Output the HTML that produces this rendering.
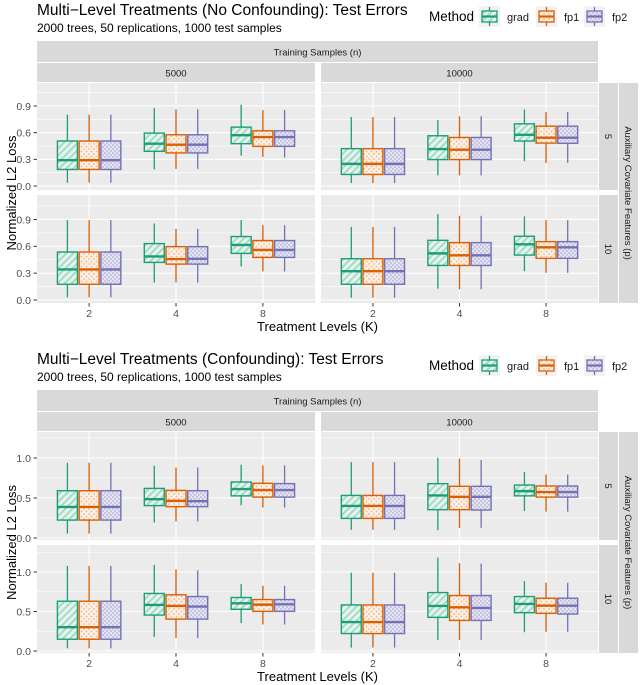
<!DOCTYPE html>
<html><head><meta charset="utf-8"><style>
html,body{margin:0;padding:0;background:#fff;}
svg{display:block;font-family:"Liberation Sans",Arial,sans-serif;}
</style></head><body>
<svg id="chart" width="640" height="685" viewBox="0 0 640 685">
<defs>
<pattern id="pat-grad" width="5" height="5" patternUnits="userSpaceOnUse" patternTransform="rotate(-45)">
<rect width="5" height="5" fill="#e6f4ee"/><rect width="5" height="2" fill="#a6dac6"/></pattern>
<pattern id="pat-fp1" width="5" height="5" patternUnits="userSpaceOnUse">
<rect width="5" height="5" fill="#fcefe5"/><circle cx="1.5" cy="1.5" r="0.9" fill="#f3b486"/><circle cx="4" cy="4" r="0.9" fill="#f3b486"/></pattern>
<pattern id="pat-fp2" width="4" height="4" patternUnits="userSpaceOnUse">
<rect width="4" height="4" fill="#e4e4f1"/><circle cx="1" cy="1" r="0.9" fill="#b3b1d8"/><circle cx="3" cy="3" r="0.9" fill="#b3b1d8"/></pattern>
</defs>
</svg>
<script>
// ---- data ----
const categories = ['2', '4', '8'];
const methods = ['grad', 'fp1', 'fp2'];
const colNames = ['5000', '10000'];
const rowNames = ['5', '10'];
// each entry: [K index][method index] = [whiskerLow, q1, median, q3, whiskerHigh]
const noconf_n5000_p5 = [
 [[0.037,0.186,0.29,0.506,0.803],[0.037,0.186,0.29,0.506,0.803],[0.037,0.186,0.29,0.506,0.803]],
 [[0.186,0.39,0.476,0.595,0.877],[0.193,0.372,0.465,0.576,0.862],[0.193,0.372,0.465,0.576,0.862]],
 [[0.342,0.476,0.572,0.662,0.914],[0.327,0.446,0.55,0.621,0.855],[0.32,0.446,0.55,0.621,0.855]]];
const noconf_n10000_p5 = [
 [[0.033,0.13,0.249,0.42,0.777],[0.033,0.13,0.249,0.42,0.777],[0.033,0.13,0.249,0.42,0.777]],
 [[0.119,0.297,0.416,0.565,0.743],[0.119,0.297,0.409,0.546,0.784],[0.119,0.297,0.409,0.546,0.784]],
 [[0.279,0.506,0.576,0.699,0.862],[0.26,0.483,0.543,0.673,0.833],[0.26,0.48,0.543,0.673,0.833]]];
const noconf_n5000_p10 = [
 [[0.03,0.176,0.341,0.536,0.892],[0.03,0.176,0.341,0.536,0.892],[0.03,0.176,0.341,0.536,0.892]],
 [[0.195,0.42,0.487,0.63,0.855],[0.195,0.401,0.457,0.596,0.795],[0.195,0.401,0.46,0.596,0.795]],
 [[0.375,0.521,0.615,0.709,0.892],[0.319,0.476,0.559,0.664,0.836],[0.319,0.476,0.559,0.664,0.836]]];
const noconf_n10000_p10 = [
 [[0.026,0.176,0.322,0.461,0.817],[0.026,0.176,0.322,0.461,0.817],[0.026,0.176,0.322,0.461,0.817]],
 [[0.127,0.386,0.521,0.667,0.96],[0.12,0.386,0.499,0.641,0.941],[0.12,0.386,0.499,0.641,0.941]],
 [[0.322,0.502,0.622,0.712,0.934],[0.304,0.465,0.589,0.652,0.892],[0.304,0.465,0.589,0.652,0.892]]];
const conf_n5000_p5 = [
 [[0.055,0.224,0.388,0.591,0.941],[0.055,0.224,0.388,0.591,0.941],[0.055,0.224,0.388,0.591,0.941]],
 [[0.194,0.405,0.485,0.62,0.903],[0.207,0.392,0.464,0.595,0.882],[0.207,0.392,0.46,0.591,0.882]],
 [[0.409,0.527,0.612,0.7,0.916],[0.38,0.511,0.599,0.684,0.907],[0.38,0.511,0.599,0.68,0.907]]];
const conf_n10000_p5 = [
 [[0.101,0.245,0.401,0.532,0.949],[0.101,0.245,0.401,0.532,0.949],[0.101,0.245,0.401,0.532,0.949]],
 [[0.097,0.354,0.532,0.679,1.004],[0.127,0.354,0.515,0.646,0.992],[0.127,0.35,0.515,0.646,0.975]],
 [[0.338,0.527,0.586,0.662,0.827],[0.329,0.511,0.574,0.65,0.793],[0.329,0.511,0.574,0.65,0.793]]];
const conf_n5000_p10 = [
 [[0.034,0.149,0.302,0.63,1.077],[0.034,0.149,0.302,0.63,1.077],[0.034,0.149,0.302,0.63,1.077]],
 [[0.179,0.455,0.583,0.728,1.089],[0.166,0.404,0.57,0.711,1.034],[0.162,0.404,0.562,0.689,1.021]],
 [[0.353,0.528,0.604,0.677,0.847],[0.336,0.502,0.587,0.651,0.826],[0.336,0.502,0.591,0.651,0.826]]];
const conf_n10000_p10 = [
 [[0.043,0.221,0.366,0.583,0.991],[0.043,0.221,0.366,0.583,0.991],[0.043,0.221,0.366,0.583,0.991]],
 [[0.14,0.426,0.57,0.74,1.183],[0.14,0.387,0.553,0.702,1.111],[0.14,0.387,0.545,0.702,1.106]],
 [[0.238,0.485,0.596,0.689,0.885],[0.243,0.477,0.574,0.668,0.864],[0.243,0.468,0.574,0.668,0.864]]];
const ticksTop = [0.0, 0.3, 0.6, 0.9];
const minorTop = [0.15, 0.45, 0.75, 1.05];
const ticksBottom = [0.0, 0.5, 1.0];
const minorBottom = [0.25, 0.75, 1.25];

const colors = {grad:'#1b9e77', fp1:'#d95f02', fp2:'#7570b3'};
const svg = document.getElementById('chart');
const NS = 'http://www.w3.org/2000/svg';
function mk(tag, attrs, parent){const e=document.createElementNS(NS,tag);for(const k in attrs)e.setAttribute(k,attrs[k]);(parent||svg).appendChild(e);return e;}
function txt(s, attrs, parent){const e=mk('text',attrs,parent);e.textContent=s;return e;}

const cols = [{l:37,r:315},{l:321,r:598}];
function xScale(col, k, m){const c=cols[col];const u=(c.r-c.l)/3.2;return c.l+(k+1-0.4+(m-1)*0.25)*u;}
function boxW(col){const c=cols[col];return (c.r-c.l)/3.2*0.23;}

function drawChart(cfg){
  const g = mk('g',{});
  
  
  const t1 = txt(cfg.title,{x:37,y:cfg.top+15,'font-size':15.5,fill:'#000'},g);
   
  const t2 = txt('2000 trees, 50 replications, 1000 test samples',{x:37,y:cfg.top+32,'font-size':12,fill:'#000'},g);
   
  // legend
  const lg = mk('g',{},g);
   
  txt('Method',{x:429,y:cfg.top+21,'font-size':13.5},lg);
  const lx=[479,536,584];
  methods.forEach((m,i)=>{
    const kg=mk('g',{},lg);
     
    const x=lx[i], y=cfg.top+6;
    mk('rect',{x:x,y:y,width:21,height:21,fill:'#f2f2f2'},kg);
    mk('line',{x1:x+10.5,x2:x+10.5,y1:y+1,y2:y+20,stroke:colors[m],'stroke-width':1.3},kg);
    mk('rect',{x:x+3,y:y+5,width:15,height:11,fill:'url(#pat-'+m+')',stroke:colors[m],'stroke-width':1.3},kg);
    mk('line',{x1:x+3,x2:x+18,y1:y+10.5,y2:y+10.5,stroke:colors[m],'stroke-width':2.2},kg);
    txt(m,{x:x+28,y:y+15,'font-size':11,fill:'#1a1a1a'},kg);
  });
  // top strips
  const st=cfg.top+41;
  const s1=mk('rect',{x:37,y:st,width:561,height:21,fill:'#d9d9d9'},g);
   
  txt('Training Samples (n)',{x:317.5,y:st+14.5,'font-size':9.5,fill:'#1a1a1a','text-anchor':'middle'},g);
  cols.forEach((c,ci)=>{
    const r=mk('rect',{x:c.l,y:st+22,width:c.r-c.l,height:19,fill:'#d9d9d9'},g);
     
    txt(colNames[ci],{x:(c.l+c.r)/2,y:st+35.5,'font-size':9.5,fill:'#1a1a1a','text-anchor':'middle'},g);
  });
  // right strips
  const rOut=mk('rect',{x:619,y:cfg.rows[0].t,width:19,height:cfg.rows[1].b-cfg.rows[0].t,fill:'#d9d9d9'},g);
   
  const my=(cfg.rows[0].t+cfg.rows[1].b)/2;
  txt('Auxiliary Covariate Features (p)',{x:625,y:my,'font-size':9.5,fill:'#1a1a1a','text-anchor':'middle',transform:'rotate(90 625 '+my+')'},g);
  cfg.rows.forEach((row,ri)=>{
    const r=mk('rect',{x:599,y:row.t,width:19,height:row.b-row.t,fill:'#d9d9d9'},g);
     
    const cy=(row.t+row.b)/2;
    txt(rowNames[ri],{x:605,y:cy,'font-size':9.5,fill:'#1a1a1a','text-anchor':'middle',transform:'rotate(90 605 '+cy+')'},g);
  });
  // panels
  cfg.rows.forEach((row,ri)=>{
    const yS=v=>row.y0-v*row.s;
    cols.forEach((c,ci)=>{
      const pg=mk('g',{},g);
       
      mk('rect',{x:c.l,y:row.t,width:c.r-c.l,height:row.b-row.t,fill:'#ebebeb'},pg);
      cfg.minor.forEach(v=>{const y=yS(v);if(y>row.t&&y<row.b)mk('line',{x1:c.l,x2:c.r,y1:y,y2:y,stroke:'#fff','stroke-width':0.6},pg);});
      cfg.ticks.forEach(v=>{const y=yS(v);mk('line',{x1:c.l,x2:c.r,y1:y,y2:y,stroke:'#fff','stroke-width':1.1},pg);});
      categories.forEach((k,ki)=>{const x=xScale(ci,ki,1);mk('line',{x1:x,x2:x,y1:row.t,y2:row.b,stroke:'#fff','stroke-width':1.1},pg);});
      const data=cfg.data[ri][ci];
      const w=boxW(ci);
      categories.forEach((k,ki)=>{
        methods.forEach((m,mi)=>{
          const d=data[ki][mi];
          const x=xScale(ci,ki,mi);
          const bg=mk('g',{},pg);
          
          
          mk('line',{x1:x,x2:x,y1:yS(d[0]),y2:yS(d[4]),stroke:colors[m],'stroke-width':1.3},bg);
          mk('rect',{x:x-w/2,y:yS(d[3]),width:w,height:yS(d[1])-yS(d[3]),fill:'url(#pat-'+m+')',stroke:colors[m],'stroke-width':1.4},bg);
          mk('line',{x1:x-w/2,x2:x+w/2,y1:yS(d[2]),y2:yS(d[2]),stroke:colors[m],'stroke-width':2.4},bg);
        });
      });
    });
    // y axis
    const ax=mk('g',{},g);
     
    cfg.ticks.forEach(v=>{const y=yS(v);
      mk('line',{x1:33.5,x2:37,y1:y,y2:y,stroke:'#333','stroke-width':1},ax);
      txt(v.toFixed(1),{x:31,y:y+3.8,'font-size':10.5,fill:'#4d4d4d','text-anchor':'end'},ax);});
  });
  // x axis
  const xb=cfg.rows[1].b;
  cols.forEach((c,ci)=>{
    const ax=mk('g',{},g);
     
    categories.forEach((k,ki)=>{const x=xScale(ci,ki,1);
      mk('line',{x1:x,x2:x,y1:xb,y2:xb+3.5,stroke:'#333','stroke-width':1},ax);
      txt(k,{x:x,y:xb+14,'font-size':10.5,fill:'#4d4d4d','text-anchor':'middle'},ax);});
  });
  const xt=txt('Treatment Levels (K)',{x:317.5,y:xb+28,'font-size':13,fill:'#000','text-anchor':'middle'},g);
   
  const yc=(cfg.rows[0].t+cfg.rows[1].b)/2;
  const yt=txt('Normalized L2 Loss',{x:16,y:yc,'font-size':13,fill:'#000','text-anchor':'middle',transform:'rotate(-90 16 '+yc+')'},g);
   
}

drawChart({name:'chart-no-confounding', top:0, title:'Multi\u2212Level Treatments (No Confounding): Test Errors',
  rows:[{t:83,b:190,y0:186,s:88.9},{t:195,b:303,y0:300,s:89.5}],
  ticks:ticksTop, minor:minorTop,
  data:[[noconf_n5000_p5,noconf_n10000_p5],[noconf_n5000_p10,noconf_n10000_p10]]});
drawChart({name:'chart-confounding', top:349, title:'Multi\u2212Level Treatments (Confounding): Test Errors',
  rows:[{t:432,b:540,y0:538,s:80},{t:545,b:653,y0:651,s:79}],
  ticks:ticksBottom, minor:minorBottom,
  data:[[conf_n5000_p5,conf_n10000_p5],[conf_n5000_p10,conf_n10000_p10]]});
</script>
</body></html>
